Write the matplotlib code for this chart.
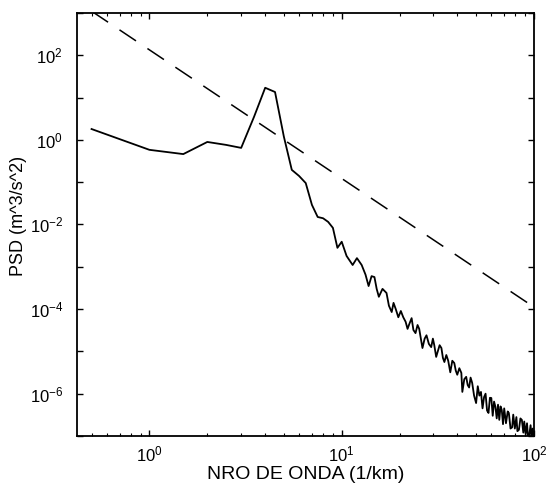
import numpy as np
import matplotlib
matplotlib.use("Agg")
import matplotlib.pyplot as plt
from matplotlib.ticker import FixedLocator, FuncFormatter, LogLocator, NullFormatter

plt.rcParams['font.family'] = ['Liberation Sans', 'DejaVu Sans']
plt.rcParams['mathtext.default'] = 'regular'

# spectrum (wavenumber in 1/km, PSD)
k_low = [0.5, 1.0, 1.5, 2.0, 2.5, 3.0, 3.5, 4.0, 4.5, 5.0, 5.5, 6.0, 6.5, 7.0,
         7.5, 8.0, 8.5, 9.0, 9.5, 10.0]
psd_low = [1.8, 0.58, 0.46, 0.89, 0.76, 0.645, 3.5, 17.0, 13.5, 1.2, 0.195, 0.14,
           0.095, 0.029, 0.015, 0.014, 0.0115, 0.0083, 0.0028, 0.0039]

k_mid = [10.6, 11.4, 12.0, 12.7, 13.3, 13.8, 14.3, 14.8, 15.2, 15.6, 16.3, 17.1,
         17.6, 18.2, 18.6, 19.1, 19.7, 20.3, 20.9, 21.5, 22.0, 22.5, 23.1, 23.6,
         24.2, 24.8, 25.3, 25.8, 26.3, 27.0, 27.6, 28.4, 29.2, 29.8, 30.3, 31.0,
         31.6, 32.3, 33.0, 33.6, 34.2, 35.0, 35.8, 36.7, 37.6, 38.5, 39.2, 39.9,
         40.9, 41.9, 42.4, 43.4, 44.4, 45.2, 46.0, 46.8, 47.7, 48.8]
psd_mid = [1.8e-3, 1.1e-3, 1.6e-3, 1.1e-3, 6.5e-4, 3.5e-4, 6.0e-4, 5.7e-4, 3.0e-4,
           1.95e-4, 3.0e-4, 2.4e-4, 1.2e-4, 8.5e-5, 1.4e-4, 1.0e-4, 6.4e-5, 9.0e-5,
           6.4e-5, 5.0e-5, 3.4e-5, 4.5e-5, 6.1e-5, 3.2e-5, 2.7e-5, 4.2e-5, 3.4e-5,
           2.0e-5, 1.2e-5, 2.0e-5, 2.4e-5, 1.5e-5, 1.26e-5, 2.0e-5, 1.4e-5, 7.4e-6,
           1.0e-5, 1.4e-5, 1.2e-5, 7.0e-6, 5.6e-6, 8.2e-6, 6.0e-6, 3.2e-6, 6.0e-6,
           5.3e-6, 3.5e-6, 2.8e-6, 4.0e-6, 3.1e-6, 1.1e-6, 2.2e-6, 2.5e-6, 1.6e-6,
           1.4e-6, 2.4e-6, 1.8e-6, 9.0e-7]

k_tail = [50, 51, 52, 53, 54, 55, 56, 57, 58, 59, 60, 61, 62, 63, 64, 65, 66, 67,
          68, 69, 70, 71.5, 73, 74, 75.5, 77, 78, 79.5, 81, 82, 83.5, 85, 86.5, 88,
          89, 90.5, 92, 93, 94.5, 96, 97, 98.5, 99.5]
psd_tail = [6.0e-7, 1.5e-6, 9e-7, 1.1e-6, 4.5e-7, 8.3e-7, 1.0e-6, 4.0e-7, 3.5e-7,
            8.0e-7, 7.9e-7, 3.0e-7, 6.5e-7, 4.9e-7, 2.6e-7, 5.5e-7, 2.4e-7, 5.0e-7,
            4.1e-7, 1.9e-7, 4.5e-7, 2.0e-7, 3.8e-7, 3.5e-7, 1.5e-7, 1.6e-7, 3.2e-7,
            1.5e-7, 2.8e-7, 1.3e-7, 1.4e-7, 2.6e-7, 2.4e-7, 1.2e-7, 2.2e-7, 1.1e-7,
            2.0e-7, 1.0e-7, 1.05e-7, 1.8e-7, 1.0e-7, 1.5e-7, 1.0e-7]

# reference power law (dashed), end points
k_ref = [0.5, 95.0]
psd_ref = [1100.0, 1.3e-4]

k = np.array(k_low + k_mid + k_tail)
psd = np.array(psd_low + psd_mid + psd_tail)

fig = plt.figure(figsize=(5.46, 4.96), dpi=100)
ax = fig.add_axes([0.141, 0.121, 0.837, 0.853])

ax.loglog(k, psd, color='black', linewidth=1.3)
ax.loglog(k_ref, psd_ref, color='black', linewidth=1.1, linestyle=(0, (13, 9)))

ax.set_xlim(0.42, 100)
ax.set_ylim(1e-7, 1e3)

ax.yaxis.set_major_locator(FixedLocator([10.0 ** e for e in range(-7, 4)]))
ax.yaxis.set_minor_locator(FixedLocator([]))
ax.yaxis.set_major_formatter(FuncFormatter(
    lambda v, p: r'$10^{%d}$' % round(np.log10(v)) if round(np.log10(v)) % 2 == 0 else ''))
ax.xaxis.set_major_locator(FixedLocator([1, 10, 100]))
ax.xaxis.set_minor_locator(LogLocator(base=10, subs=np.arange(2, 10)))
ax.xaxis.set_minor_formatter(NullFormatter())
ax.xaxis.set_major_formatter(FuncFormatter(lambda v, p: r'$10^{%d}$' % round(np.log10(v))))

ax.tick_params(which='both', direction='in', top=True, right=True, labelsize=12)
ax.tick_params(which='major', length=4, width=1)
ax.tick_params(which='minor', length=2.5, width=0.8)
ax.tick_params(axis='x', pad=6)
ax.tick_params(axis='y', pad=10)
for s in ax.spines.values():
    s.set_linewidth(1.3)

ax.set_xlabel('NRO DE ONDA (1/km)', fontsize=14, labelpad=1)
ax.set_ylabel('PSD (m^3/s^2)', fontsize=13)
ax.yaxis.set_label_coords(-0.11, 0.52)

fig.savefig('out.png', dpi=100)
